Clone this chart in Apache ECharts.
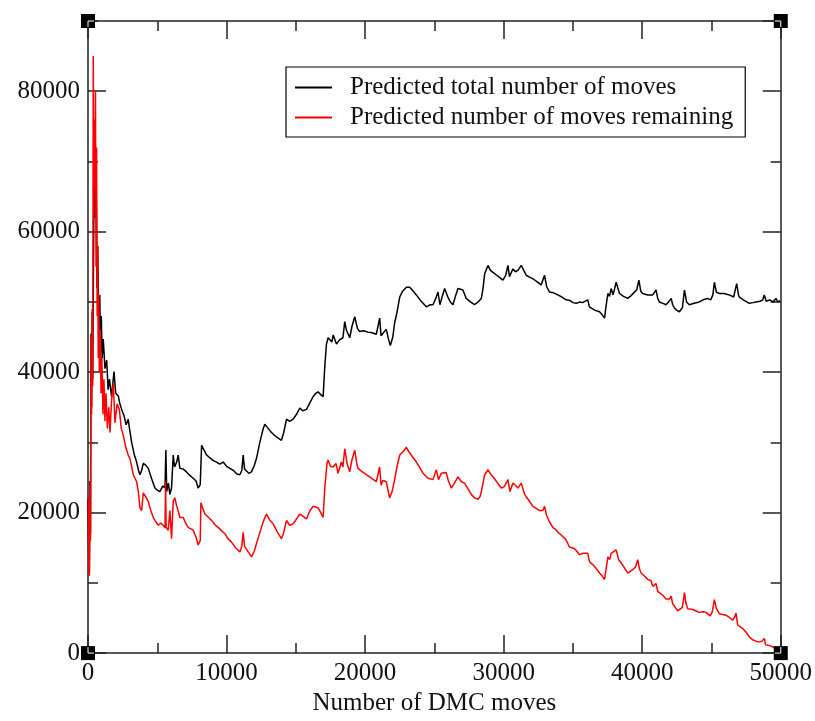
<!DOCTYPE html>
<html>
<head>
<meta charset="utf-8">
<script src="https://cdn.jsdelivr.net/npm/echarts@6/dist/echarts.min.js"></script>
<style>html,body{margin:0;padding:0;background:#fff;overflow:hidden}#c{width:815px;height:721px}</style>
</head>
<body>
<div id="c"></div>
<script>
// ---- data ----
const seriesNames = ['Predicted total number of moves', 'Predicted number of moves remaining'];
const xTicks = [0, 10000, 20000, 30000, 40000, 50000];
const yTicks = [0, 20000, 40000, 60000, 80000];

const totalMoves = [0,60,100,140,180,220,260,300,340,400,460,500,560,600,650,700,750,800,850,900,960,1020,1100,1226,1350,1450,1550,1700,1875,2000,2190,2300,2430,2600,2750,2900,3000,3150,3350,3510,3650,3750,3870,3990,4150,4350,4600,4830,5000,5190,5400,5560,5620,5680,5800,5910,6030,6150,6250,6400,6510,6630,6870,7110,7350,7590,7800,7950,8100,8200,8350,8560,8800,9050,9280,9500,9760,10000,10240,10500,10750,10960,11100,11200,11300,11440,11600,11800,12000,12160,12400,12640,12760,13000,13200,13360,13650,13960,14100,14330,14550,14800,15050,15290,15500,15770,16000,16240,16400,16600,16800,16970,17090,17210,17330,17450,17600,17700,17930,18150,18400,18530,18650,18890,19050,19250,19450,19610,19900,20200,20500,20810,21050,21150,21290,21530,21700,21820,22000,22130,22300,22500,22700,22980,23220,23450,23700,24000,24420,24700,24900,25100,25260,25400,25600,25740,25950,26150,26340,26550,26700,26900,27060,27300,27600,27900,28150,28390,28510,28630,28870,29050,29230,29500,29700,29950,30150,30310,30420,30670,30850,31030,31270,31450,31630,31900,32110,32400,32710,32950,33100,33310,33600,33910,34200,34510,34800,35000,35240,35500,35700,36070,36190,36310,36600,36920,37100,37280,37400,37520,37640,37760,37900,38120,38360,38650,38960,39200,39440,39600,39760,39900,40040,40400,40760,41000,41120,41240,41500,41720,41900,42090,42200,42330,42500,42690,42900,43050,43200,43400,43750,44120,44400,44720,44950,45100,45210,45350,45570,45900,46290,46600,46820,46950,47010,47300,47730,48000,48210,48500,48700,48810,48950,49200,49450,49650,49800,49950];
const totalValues = [22000,12500,11500,24500,17000,45500,35000,48500,39000,56000,73500,62000,66000,64700,52000,58000,51000,46000,51000,44000,48000,42000,44700,40500,41700,37500,39000,36500,40100,37000,36600,35500,34700,33800,32500,33300,31900,30000,28200,27200,26000,25400,26000,27000,26800,26300,24800,23500,23200,23000,23800,23500,28900,23000,24200,22600,23500,28200,26500,27200,28200,26300,26200,25800,25300,24900,24500,23500,24000,29600,29000,28200,27800,27400,27200,26900,27200,26600,26300,26000,25500,25400,26000,28200,26200,26300,25600,25800,26700,27700,30000,31900,32600,32000,31500,31200,30700,30300,31200,33300,33000,33300,34000,34900,34500,34700,35600,36500,36900,37200,36800,36500,40800,44000,44900,45100,44300,45300,44000,44600,44900,47200,46000,44900,46500,47900,46200,45800,45900,45700,45600,45400,47700,45200,45400,46100,44600,43800,45000,47000,48500,50700,51500,52100,52100,51600,51000,50200,49300,49600,49600,50500,51400,49600,51000,51900,50800,50000,49600,51000,51900,51800,51700,50500,50000,49600,50000,50500,51900,54000,55200,54500,54200,53800,53500,53100,53800,55200,53600,54700,54300,54500,55200,54500,53800,53500,53300,52900,52400,53800,52200,51400,51300,51000,50700,50300,50200,49900,49800,50000,49900,50300,49300,49100,48800,48600,48200,47700,49500,51200,50800,51900,51000,52800,51200,50800,50500,50900,51400,51700,53100,51500,51200,51000,51000,51700,50500,50000,49800,49600,50000,50500,49600,49100,48800,48600,49200,51700,50000,49600,49800,50000,50300,50500,50300,51000,52800,51400,51200,51200,51000,50700,52600,51000,50700,50300,49800,49900,50000,50100,50300,51000,50100,50300,50000,50500,50000,50200];

const remainingMoves = [20,60,100,140,180,220,260,300,340,380,420,460,500,540,580,620,660,700,740,780,820,880,940,1000,1080,1150,1226,1300,1400,1500,1590,1700,1825,1950,2100,2260,2400,2550,2700,2900,3030,3270,3510,3630,3750,3870,3990,4150,4350,4500,4710,4830,5070,5250,5430,5560,5600,5640,5790,5910,6030,6150,6270,6390,6500,6630,6870,7050,7230,7590,7800,7950,8100,8150,8300,8440,8700,8920,9150,9390,9650,9880,10100,10360,10650,10960,11100,11200,11300,11500,11800,12000,12160,12350,12520,12700,12880,13100,13360,13650,13960,14100,14330,14550,14800,15050,15290,15500,15770,16000,16240,16600,16800,16970,17090,17250,17330,17500,17690,17900,18050,18290,18400,18530,18700,18890,19050,19250,19400,19490,19800,20090,20450,20810,21050,21150,21300,21530,21770,21950,22130,22300,22500,22750,22980,23150,23400,23700,23950,24180,24540,24900,25140,25300,25500,25620,25850,26000,26220,26450,26700,26950,27180,27450,27660,27900,28150,28300,28390,28630,28870,29050,29230,29500,29830,30050,30310,30450,30670,30850,31030,31270,31510,31800,32110,32350,32590,32830,32950,33100,33300,33550,33800,34030,34280,34510,34750,35110,35480,35710,36070,36200,36430,36700,36920,37100,37280,37400,37520,37650,37760,37900,38120,38300,38600,38960,39080,39320,39500,39680,39800,39920,40200,40400,40640,40760,41000,41120,41240,41500,41720,41960,42090,42200,42330,42560,42690,42900,43050,43150,43280,43400,43650,43890,44120,44400,44600,44720,44900,45050,45210,45350,45570,45800,46050,46290,46530,46650,46770,46820,46890,47010,47250,47490,47730,47970,48200,48450,48650,48810,48900,49150,49410,49600,49770,50000];
const remainingValues = [22000,12000,11000,24000,16000,45000,34000,49000,38000,85000,62000,76000,66000,80000,55000,72000,48000,58000,42000,51000,40000,46000,37000,42000,34000,39000,33000,37000,32000,35000,31400,36000,38400,32800,35500,34700,32000,31000,29500,28200,27700,25400,24400,23000,20700,20300,22800,22300,21600,20500,19300,18900,18200,18500,18200,17800,24400,17900,17500,20300,16300,21600,22100,21000,20300,19300,19300,18500,17900,17500,16500,15400,16000,21400,20500,19800,19300,18900,18300,17900,17400,17000,16300,15800,15000,14400,15200,17200,15200,14600,13700,14500,15600,16800,17900,19000,19800,19000,18400,17300,16300,17000,18900,18200,18400,19100,19800,19500,19100,20200,20900,20700,20000,19300,23500,27000,27500,26600,26500,27000,25600,27200,26500,29100,27000,25800,27500,28900,27000,26300,25800,25400,24900,24400,26500,23900,24600,24400,22100,23000,24700,26500,28200,28700,29300,28700,28000,27200,26400,25600,24900,24700,26100,24700,25600,25800,25700,24600,23500,24200,25100,24400,24200,23300,22600,22100,21900,22300,23000,25400,26100,25500,25100,24400,23500,23700,24700,23000,24200,23900,23500,24200,22600,21800,20900,20600,20300,20300,20900,19600,18700,17900,17500,17000,16600,16100,15100,14900,14000,14200,14200,13000,12600,12000,11400,11000,10500,12000,13700,13300,14200,14000,14700,13300,12500,11400,11400,11900,12200,13300,12000,11400,10900,10500,10300,9500,9900,8800,8600,8200,7700,7700,8100,7000,6700,6000,6000,6500,8600,7200,6300,6300,6200,6000,5800,5900,5800,5600,5300,5800,7600,6400,5600,5500,5400,5100,4700,5000,5700,5800,4000,3900,3500,3000,2300,1900,1700,1600,1700,2100,1200,1100,900,700,500,200];

// ---- chart ----
const FONT = '"Liberation Serif", "Times New Roman", serif';
const zip = (xs, ys) => xs.map((x, i) => [x, ys[i]]);
const lineCol = '#222';
const plain = v => String(v);

function xAx(pos, showLabel) {
  return {
    type: 'value', position: pos, min: xTicks[0], max: xTicks[xTicks.length - 1],
    interval: xTicks[1] - xTicks[0],
    axisLine: { show: true, onZero: false, lineStyle: { color: lineCol, width: 1.5 } },
    axisTick: { show: true, inside: true, length: 18, lineStyle: { color: lineCol, width: 1.5 } },
    minorTick: { show: true, splitNumber: 2, length: 10, lineStyle: { color: lineCol, width: 1.5 } },
    axisLabel: { show: showLabel, fontFamily: FONT, fontSize: 25, color: '#111', margin: 8, formatter: plain },
    splitLine: { show: false }, minorSplitLine: { show: false },
    name: showLabel ? 'Number of DMC moves' : '', nameLocation: 'middle', nameGap: 33,
    nameTextStyle: { fontFamily: FONT, fontSize: 25, color: '#111' }
  };
}
function yAx(pos, interval, len, showLabel, showLine) {
  return {
    type: 'value', position: pos, min: 0, max: 90000, interval: interval,
    axisLine: { show: showLine, onZero: false, lineStyle: { color: lineCol, width: 1.5 } },
    axisTick: { show: true, inside: true, length: len, lineStyle: { color: lineCol, width: 1.5 } },
    axisLabel: { show: showLabel, fontFamily: FONT, fontSize: 25, color: '#111', margin: 8, showMaxLabel: false, formatter: plain },
    splitLine: { show: false }
  };
}

const chart = echarts.init(document.getElementById('c'), null, { renderer: 'canvas' });
chart.setOption({
  animation: false,
  backgroundColor: '#fff',
  grid: { left: 88, right: 34, top: 21, bottom: 56, containLabel: false },
  xAxis: [xAx('bottom', true), xAx('top', false)],
  yAxis: [
    yAx('left', yTicks[1] - yTicks[0], 18, true, true),
    yAx('left', 10000, 10, false, false),
    yAx('right', yTicks[1] - yTicks[0], 18, false, true),
    yAx('right', 10000, 10, false, false)
  ],
  legend: {
    orient: 'vertical', left: 286, top: 67,
    padding: [8, 12, 7, 9], itemGap: 5, itemWidth: 37, itemHeight: 2,
    borderColor: '#000', borderWidth: 1.2, backgroundColor: '#fff',
    textStyle: { fontFamily: FONT, fontSize: 25, color: '#111', padding: [0, 0, 0, 13] },
    data: seriesNames.map(n => ({ name: n, icon: 'rect' }))
  },
  series: [
    { name: seriesNames[0], type: 'line', symbol: 'none', xAxisIndex: 0, yAxisIndex: 0,
      data: zip(totalMoves, totalValues), lineStyle: { color: '#000', width: 1.5 }, itemStyle: { color: '#000' } },
    { name: seriesNames[1], type: 'line', symbol: 'none', xAxisIndex: 0, yAxisIndex: 0,
      data: zip(remainingMoves, remainingValues), lineStyle: { color: '#ff0000', width: 1.5 }, itemStyle: { color: '#ff0000' } }
  ]
});

// corner handles (decoration), positioned from the axes' own extents
const corners = [[0, 0, 1, -1], [50000, 0, -1, -1], [0, 90000, 1, 1], [50000, 90000, -1, 1]];
const g = [];
corners.forEach(c => {
  const p = chart.convertToPixel({ xAxisIndex: 0, yAxisIndex: 0 }, [c[0], c[1]]);
  g.push({ type: 'rect', shape: { x: p[0] - 7, y: p[1] - 7, width: 14, height: 14 }, style: { fill: '#000' }, z: 100 });
  g.push({ type: 'polyline', shape: { points: [[p[0] + 6 * c[2], p[1]], [p[0], p[1]], [p[0], p[1] + 6 * c[3]]] },
    style: { stroke: '#fff', lineWidth: 1, fill: null }, z: 101 });
});
chart.setOption({ graphic: g });
</script>
</body>
</html>
